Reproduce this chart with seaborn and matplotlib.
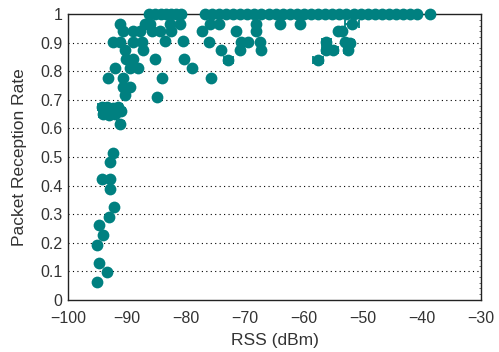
import matplotlib
matplotlib.use("Agg")
import matplotlib.pyplot as plt
import numpy as np
import pandas as pd
import seaborn as sns

# RSS (dBm), packet reception rate, and horizontal error (dBm, 0 = none)
rss_low = [-95.0, -93.4, -94.8, -95.0, -94.0, -94.7, -93.0, -92.2, -92.8,
           -94.2, -92.9, -92.8, -92.4]
prr_low = [0.064, 0.099, 0.13, 0.192, 0.226, 0.261, 0.291, 0.324, 0.387,
           0.422, 0.422, 0.484, 0.515]

rss_mid = [-94.2, -93.3, -92.4, -91.5, -94.0, -93.0, -92.0, -91.0, -91.1,
           -90.3, -84.9, -90.6, -89.5, -93.2, -90.6, -84.1, -75.8,
           -92.0, -89.5, -88.1, -78.9, -90.1, -88.9, -85.3, -80.4, -72.8, -57.6]
prr_mid = [0.675, 0.675, 0.67, 0.675, 0.65, 0.648, 0.65, 0.66, 0.615,
           0.717, 0.71, 0.746, 0.746, 0.775, 0.778, 0.775, 0.775,
           0.812, 0.812, 0.812, 0.81, 0.843, 0.843, 0.843, 0.843, 0.84, 0.84]
err_mid = [0.7, 0.7, 0.7, 0.7, 0.7, 0.7, 0.7, 0.7, 0.6,
           0, 0, 0, 0.6, 0, 0, 0, 0,
           0, 0, 0, 0, 0, 0, 0, 0, 0.8, 0.8]

rss_high = [-90.3, -87.2, -74.0, -70.8, -67.2, -56.2, -55.0, -52.5,
            -92.3, -91.2, -88.9, -87.5, -83.5, -80.5, -76.1, -70.6, -69.5,
            -67.5, -56.2, -53.1, -52.2,
            -90.6, -88.9, -87.8, -85.8, -84.4, -82.5, -77.3, -71.5, -68.1,
            -54.2, -53.6,
            -91.2, -87.0, -86.0, -82.7, -81.0, -75.9, -74.4, -68.1, -64.1,
            -60.7, -51.9]
prr_high = [0.874, 0.874, 0.874, 0.874, 0.874, 0.874, 0.874, 0.874,
            0.903, 0.903, 0.903, 0.903, 0.905, 0.905, 0.903, 0.903, 0.903,
            0.903, 0.903, 0.903, 0.90,
            0.94, 0.94, 0.94, 0.94, 0.94, 0.94, 0.94, 0.94, 0.94,
            0.94, 0.94,
            0.967, 0.967, 0.967, 0.967, 0.967, 0.967, 0.967, 0.967, 0.967,
            0.967, 0.967]
err_high = [0, 0, 0, 0, 0, 0.7, 0.7, 0.7,
            0, 0, 0, 0, 0, 0, 0, 0, 0,
            0, 0.7, 0, 0.6,
            0, 0, 0, 0, 0, 0, 0, 0, 0,
            0, 0,
            0, 0, 0, 0, 0, 0, 0, 0, 0,
            0, 1.2]

rss_top = [-86.2, -85.2, -84.3, -83.4, -82.5, -81.6, -80.8,
           -76.8, -75.6, -74.4, -73.2, -72.0, -70.8, -69.6, -68.4, -67.2,
           -66.0, -64.8, -63.6, -62.4, -61.2, -60.0, -58.8, -57.6, -56.4,
           -55.2, -54.0, -52.8, -51.6, -50.4, -49.2, -48.0, -46.8, -45.6,
           -44.4, -43.2, -42.0, -40.8, -38.6]

df = pd.DataFrame({
    "rss": rss_low + rss_mid + rss_high + rss_top,
    "prr": prr_low + prr_mid + prr_high + [1.0] * len(rss_top),
    "err": [0] * len(rss_low) + err_mid + err_high + [0] * len(rss_top),
})

teal = "#008080"
text_col = "#333333"

sns.set_style("white")
plt.rcParams["font.family"] = ["Liberation Sans", "DejaVu Sans"]

fig = plt.figure(figsize=(4.99, 3.52), dpi=100)
ax = fig.add_axes([0.136, 0.148, 0.828, 0.812])

# dotted reference lines
for y in np.arange(0.1, 1.0, 0.1):
    ax.axhline(y, color="black", linestyle=(0, (1, 3)), linewidth=0.8, zorder=0)

eb = df[df["err"] > 0]
ax.errorbar(eb["rss"], eb["prr"], xerr=eb["err"], fmt="none", ecolor=teal,
            elinewidth=1.3, capsize=3, capthick=1.3, zorder=2, clip_on=False)
sns.scatterplot(data=df, x="rss", y="prr", color=teal, s=72, edgecolor=teal,
                linewidth=0, ax=ax, zorder=3, clip_on=False, legend=False)

yt = np.round(np.arange(0, 1.01, 0.1), 1)
ax.set_xlim(-100, -30)
ax.set_ylim(0, 1)
ax.set_xticks(np.arange(-100, -29, 10))
ax.set_yticks(yt)
ax.set_yticklabels([f"{v:g}" for v in yt])
ax.set_xticklabels([f"\u2212{abs(v)}" for v in range(100, 29, -10)])

ax.tick_params(axis="x", direction="in", length=4, width=0.8, color="#444444",
               labelsize=11.5, pad=8, labelcolor=text_col)
ax.tick_params(axis="y", direction="in", length=0, labelsize=11.5, pad=4,
               labelcolor=text_col)
ax.set_yticks(np.arange(0, 1.001, 0.02), minor=True)
ax.tick_params(axis="y", which="minor", left=False, right=True, direction="in",
               length=1.5, width=0.6, color="#555555")

for side in ["left", "bottom", "top", "right"]:
    ax.spines[side].set_visible(True)
    ax.spines[side].set_color("#222222")
    ax.spines[side].set_linewidth(1.0)

ax.set_xlabel("RSS (dBm)", fontsize=12.5, color=text_col)
ax.set_ylabel("Packet Reception Rate", fontsize=12.5, color=text_col)
ax.xaxis.set_label_coords(0.5, -0.115)
ax.yaxis.set_label_coords(-0.098, 0.5)

fig.savefig("out.png", dpi=100)
